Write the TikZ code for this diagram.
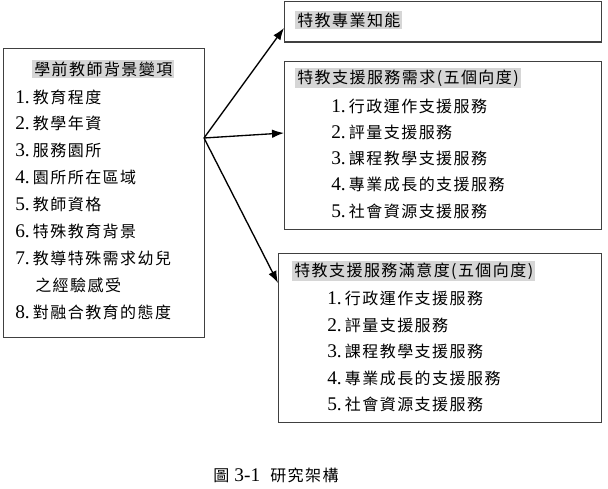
\documentclass[tikz,border=0pt]{standalone}
\usepackage{fontspec}
\setmainfont{Liberation Serif}
\newfontfamily\cjk[LetterSpace=9]{Noto Sans CJK TC}
\usetikzlibrary{arrows.meta}
\newcommand{\itmnum}[1]{{\rmfamily\fontsize{14.5}{14}\selectfont #1\,}}
\begin{document}
\begin{tikzpicture}[x=0.75pt,y=-0.75pt,
 box/.style={draw=black!75, line width=1.1pt, anchor=north west, inner sep=0pt},
 ttl/.style={fill=black!16, anchor=west, inner sep=1.5pt, font=\fontsize{12}{14}\selectfont\cjk},
 itm/.style={anchor=west, inner sep=0pt, font=\fontsize{12}{14}\selectfont\cjk},
 arr/.style={-{Latex[length=9pt,width=6.5pt]}, line width=1pt}]
\useasboundingbox (0,0) rectangle (608,489);
% boxes
\node[box, minimum width=150.75pt, minimum height=216.75pt] (L) at (3,48) {};
\node[box, minimum width=237.75pt, minimum height=30.5pt] (T) at (284,0.6) {};
\node[box, minimum width=237.75pt, minimum height=126pt] (M) at (284,61) {};
\node[box, minimum width=242.25pt, minimum height=126.75pt] (B) at (278,253) {};
% left box text
\node[ttl] (lt) at (32,69) {學前教師背景變項};
\node[itm] (l1) at (15,97) {\itmnum{1.}教育程度};
\node[itm] (l2) at (15,123.5) {\itmnum{2.}教學年資};
\node[itm] (l3) at (15,150) {\itmnum{3.}服務園所};
\node[itm] (l4) at (15,177) {\itmnum{4.}園所所在區域};
\node[itm] (l5) at (15,204) {\itmnum{5.}教師資格};
\node[itm] (l6) at (15,231) {\itmnum{6.}特殊教育背景};
\node[itm] (l7) at (15,258) {\itmnum{7.}教導特殊需求幼兒};
\node[itm] (l7b) at (35,285) {之經驗感受};
\node[itm] (l8) at (15,312) {\itmnum{8.}對融合教育的態度};
% top box
\node[ttl] (tt) at (295,20) {特教專業知能};
% middle box
\node[ttl] (mt) at (295,78) {特教支援服務需求(五個向度)};
\node[itm] (m1) at (331,106) {\itmnum{1.}行政運作支援服務};
\node[itm] (m2) at (331,132) {\itmnum{2.}評量支援服務};
\node[itm] (m3) at (331,158) {\itmnum{3.}課程教學支援服務};
\node[itm] (m4) at (331,184) {\itmnum{4.}專業成長的支援服務};
\node[itm] (m5) at (331,211) {\itmnum{5.}社會資源支援服務};
% bottom box
\node[ttl] (bt) at (292,271) {特教支援服務滿意度(五個向度)};
\node[itm] (b1) at (327,298) {\itmnum{1.}行政運作支援服務};
\node[itm] (b2) at (327,325) {\itmnum{2.}評量支援服務};
\node[itm] (b3) at (327,351) {\itmnum{3.}課程教學支援服務};
\node[itm] (b4) at (327,378) {\itmnum{4.}專業成長的支援服務};
\node[itm] (b5) at (327,404) {\itmnum{5.}社會資源支援服務};
% arrows
\coordinate (o) at (204,138);
\draw[arr] (o) -- (T.west |- 0,28);
\draw[arr] (o) -- (M.west |- 0,133);
\draw[arr] (o) -- (B.west |- 0,283);
% caption
\node[itm, anchor=center] (cap) at (276,475) {圖 {\rmfamily\fontsize{14.5}{14}\selectfont 3-1} \ 研究架構};
\end{tikzpicture}
\end{document}
